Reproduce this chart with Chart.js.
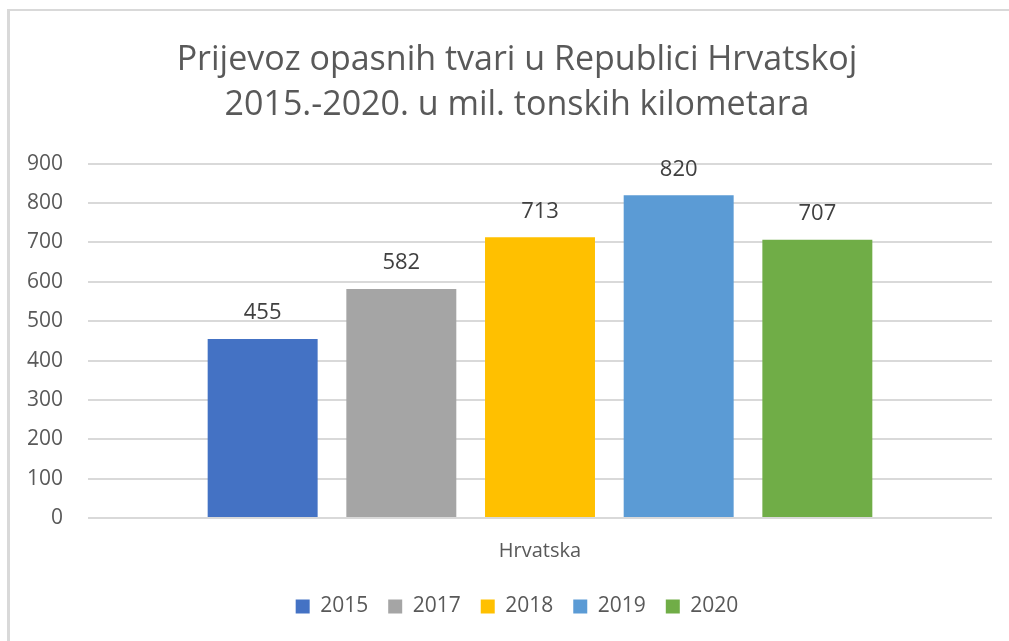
<!DOCTYPE html>
<html>
<head>
<meta charset="utf-8">
<script src="https://cdn.jsdelivr.net/npm/chart.js@4"></script>
<style>
  html, body { margin: 0; padding: 0; background: #ffffff; overflow: hidden; width: 1009px; height: 641px; }
  #wrap { position: absolute; left: 7px; top: 9px; width: 1014px; height: 632px;
          border-top: 2px solid #d9d9d9; border-left: 3px solid #d9d9d9; background: #fff; }
  canvas { display: block; }
</style>
</head>
<body>
<div id="wrap"><canvas id="c" width="1014" height="630"></canvas></div>
<script>
const titleLines = ['Prijevoz opasnih tvari u Republici Hrvatskoj', '2015.-2020. u mil. tonskih kilometara'];
const categories = ['Hrvatska'];
const seriesNames = ['2015', '2017', '2018', '2019', '2020'];
const seriesValues = [455, 582, 713, 820, 707];
const seriesColors = ['#4472C4', '#A5A5A5', '#FFC000', '#5B9BD5', '#70AD47'];
const yTicks = [0, 100, 200, 300, 400, 500, 600, 700, 800, 900];

const FONT = '"Open Sans", "Noto Sans", sans-serif';

const valueLabels = {
  id: 'valueLabels',
  afterDatasetsDraw(chart) {
    const ctx = chart.ctx;
    ctx.save();
    ctx.font = '22px ' + FONT;
    ctx.fillStyle = '#404040';
    ctx.textAlign = 'center';
    ctx.textBaseline = 'middle';
    chart.data.datasets.forEach((ds, i) => {
      const meta = chart.getDatasetMeta(i);
      meta.data.forEach((bar, j) => {
        ctx.fillText(String(ds.data[j]), bar.x, bar.y - 26);
      });
    });
    ctx.restore();
  }
};

new Chart(document.getElementById('c'), {
  type: 'bar',
  data: {
    labels: categories,
    datasets: seriesNames.map((name, i) => ({
      label: name,
      data: [seriesValues[i]],
      backgroundColor: seriesColors[i],
      borderWidth: 0,
      categoryPercentage: 0.767,
      barPercentage: 0.793
    }))
  },
  options: {
    responsive: false,
    animation: false,
    layout: { padding: { left: 0, right: 0, top: 0, bottom: 14 } },
    plugins: {
      title: {
        display: true,
        text: titleLines,
        color: '#595959',
        font: { family: FONT, size: 34, weight: 'normal', lineHeight: 1.32 },
        padding: { top: 27, bottom: 36 }
      },
      legend: {
        position: 'bottom',
        labels: {
          color: '#595959',
          font: { family: FONT, size: 21 },
          boxWidth: 14,
          boxHeight: 14,
          padding: 20
        }
      },
      tooltip: { enabled: false }
    },
    scales: {
      x: {
        grid: { display: false, drawTicks: false },
        border: { display: false },
        ticks: { color: '#595959', font: { family: FONT, size: 20 }, padding: 21 },
        afterFit: s => { s.height = 58; }
      },
      y: {
        position: 'left',
        min: 0,
        max: 900,
        afterBuildTicks: s => { s.ticks = yTicks.map(v => ({ value: v })); },
        afterFit: s => { s.width = 78; },
        grid: { color: '#d9d9d9', lineWidth: 2, drawTicks: false },
        border: { display: false },
        ticks: { color: '#595959', font: { family: FONT, size: 21 }, padding: 25 }
      },
      yRightSpace: {
        type: 'linear',
        position: 'right',
        min: 0,
        max: 900,
        grid: { display: false, drawTicks: false },
        border: { display: false },
        ticks: { display: false },
        afterFit: s => { s.width = 32; }
      }
    }
  },
  plugins: [valueLabels]
});
</script>
</body>
</html>
